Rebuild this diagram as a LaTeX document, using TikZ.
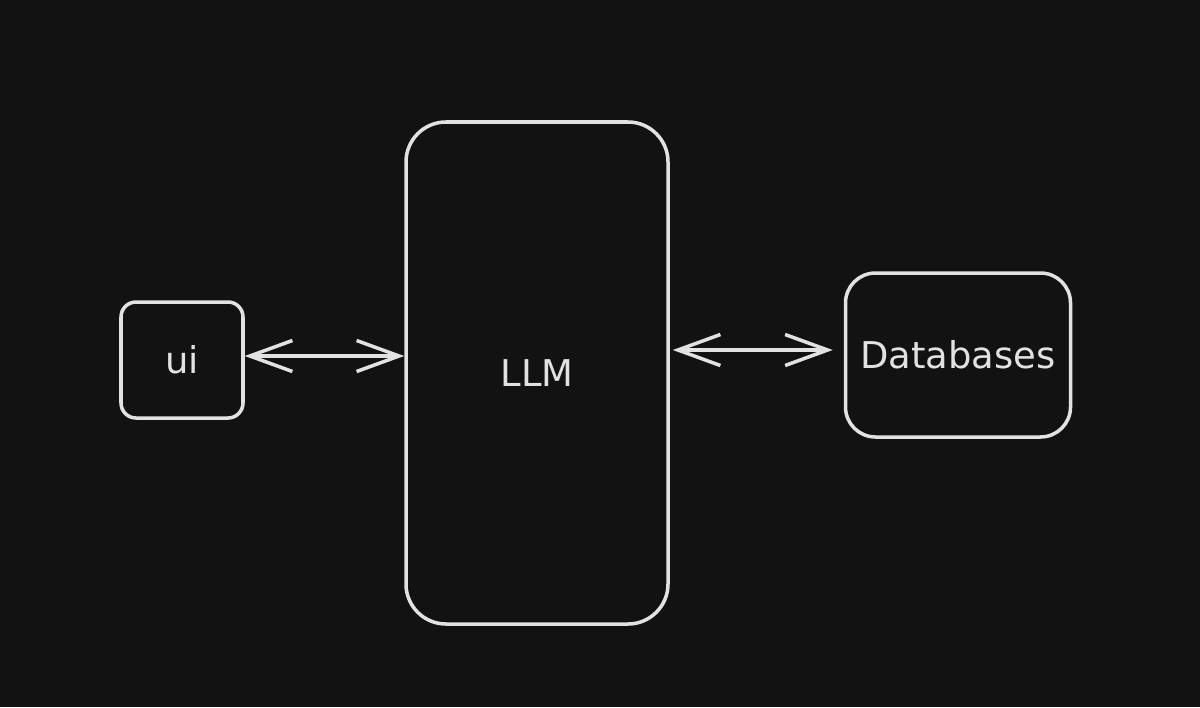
\documentclass[tikz,border=0pt]{standalone}
\usepackage{fontspec}
\setmainfont{DejaVu Sans}
\usetikzlibrary{arrows.meta}
\definecolor{bgdark}{HTML}{121212}
\definecolor{chalk}{HTML}{E2E2E2}
\tikzstyle{block} = [rectangle, draw=chalk, line width=2pt, text=chalk, font=\fontsize{21}{25}\selectfont, align=center]
\tikzstyle{arrow} = [draw=chalk, line width=2pt, {Straight Barb[length=0.85cm, width=0.62cm, line width=2pt]}-{Straight Barb[length=0.85cm, width=0.62cm, line width=2pt]}]

\begin{document}
\begin{tikzpicture}
\fill[bgdark] (0,0) rectangle (24,-14.14);
\useasboundingbox (0,0) rectangle (24,-14.14);
\node (ui) [block, minimum width=2.44cm, minimum height=2.32cm, rounded corners=0.3cm] at (3.64,-7.2) {ui};
\node (llm) [block, minimum width=5.24cm, minimum height=10.04cm, rounded corners=0.8cm] at (10.74,-7.46) {LLM};
\node (db) [block, minimum width=4.5cm, minimum height=3.28cm, rounded corners=0.6cm] at (19.16,-7.1) {Databases};
%\draw [arrow] (ui) -- (db);
\draw [arrow] ([yshift=0.08cm]ui.east) -- ([yshift=0.08cm]ui.east -| llm.west);
\draw [arrow, shorten <=0.06cm, shorten >=0.22cm] ([yshift=0.1cm]db.west -| llm.east) -- ([yshift=0.1cm]db.west);
\end{tikzpicture}
\end{document}
